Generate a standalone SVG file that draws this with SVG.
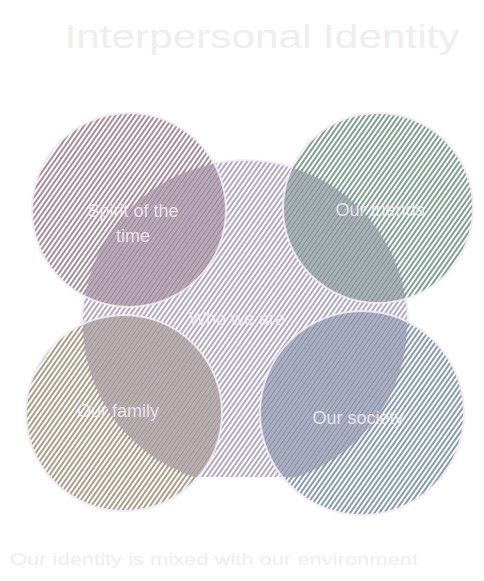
<svg xmlns="http://www.w3.org/2000/svg" width="484" height="581" viewBox="0 0 484 581">
<defs>
<style>
.lbl{font-family:"Liberation Sans","DejaVu Sans",sans-serif;font-size:18px;fill:#f7eef6;text-anchor:middle;fill-opacity:0.85}
.edge{fill:none;stroke:#f3eaf2;stroke-width:2;stroke-opacity:0.9}
.cap{font-family:"Liberation Sans","DejaVu Sans",sans-serif;fill:#eeeeee}
</style>
<pattern id="hSpirit" width="4" height="10" patternUnits="userSpaceOnUse" patternTransform="rotate(35)"><line x1="1" y1="0" x2="1" y2="10" stroke="#7a5866" stroke-width="1.5"/></pattern>
<pattern id="hWho" width="4" height="10" patternUnits="userSpaceOnUse" patternTransform="rotate(35) translate(2 0)"><line x1="1" y1="0" x2="1" y2="10" stroke="#8a7aa0" stroke-width="1.3"/></pattern>
<pattern id="hFriends" width="4" height="10" patternUnits="userSpaceOnUse" patternTransform="rotate(35)"><line x1="1" y1="0" x2="1" y2="10" stroke="#44705f" stroke-width="1.5"/></pattern>
<pattern id="hFamily" width="4" height="10" patternUnits="userSpaceOnUse" patternTransform="rotate(35)"><line x1="1" y1="0" x2="1" y2="10" stroke="#7f6e52" stroke-width="1.5"/></pattern>
<pattern id="hSociety" width="4" height="10" patternUnits="userSpaceOnUse" patternTransform="rotate(35)"><line x1="1" y1="0" x2="1" y2="10" stroke="#4f6a86" stroke-width="1.5"/></pattern>
<clipPath id="whoClip"><rect x="78" y="150" width="334" height="327"/></clipPath>
</defs>
<rect width="484" height="581" fill="#ffffff"/>
<text class="cap" x="262" y="48" font-size="34" text-anchor="middle" textLength="395" lengthAdjust="spacingAndGlyphs">Interpersonal Identity</text>

<g id="who">
<g clip-path="url(#whoClip)">
<circle cx="245" cy="323" r="163" fill="url(#hWho)"/>
<circle class="edge" cx="245" cy="323" r="163"/>
</g>
</g>
<g id="spirit">
<circle cx="129" cy="210" r="97" fill="url(#hSpirit)" fill-opacity="0.9"/>
<circle class="edge" cx="129" cy="210" r="97"/>
</g>
<g id="friends">
<circle cx="378" cy="208" r="95" fill="url(#hFriends)" fill-opacity="0.9"/>
<circle class="edge" cx="378" cy="208" r="95"/>
</g>
<g id="family">
<circle cx="124" cy="413" r="98" fill="url(#hFamily)" fill-opacity="0.9"/>
<circle class="edge" cx="124" cy="413" r="98"/>
</g>
<g id="society">
<circle cx="362" cy="413" r="102" fill="url(#hSociety)" fill-opacity="0.9"/>
<circle class="edge" cx="362" cy="413" r="102"/>
</g>
<g id="connectors"></g>
<g id="labels">
<text class="lbl" x="133" y="217">Spirit of the</text>
<text class="lbl" x="133" y="242">time</text>
<text class="lbl" x="380" y="216">Our friends</text>
<text class="lbl" x="237" y="325">Who we are</text>
<text class="lbl" x="118" y="417">Our family</text>
<text class="lbl" x="358" y="424">Our society</text>
</g>
<text class="cap" x="10" y="565" font-size="17" textLength="408" lengthAdjust="spacingAndGlyphs">Our identity is mixed with our environment</text>
</svg>
